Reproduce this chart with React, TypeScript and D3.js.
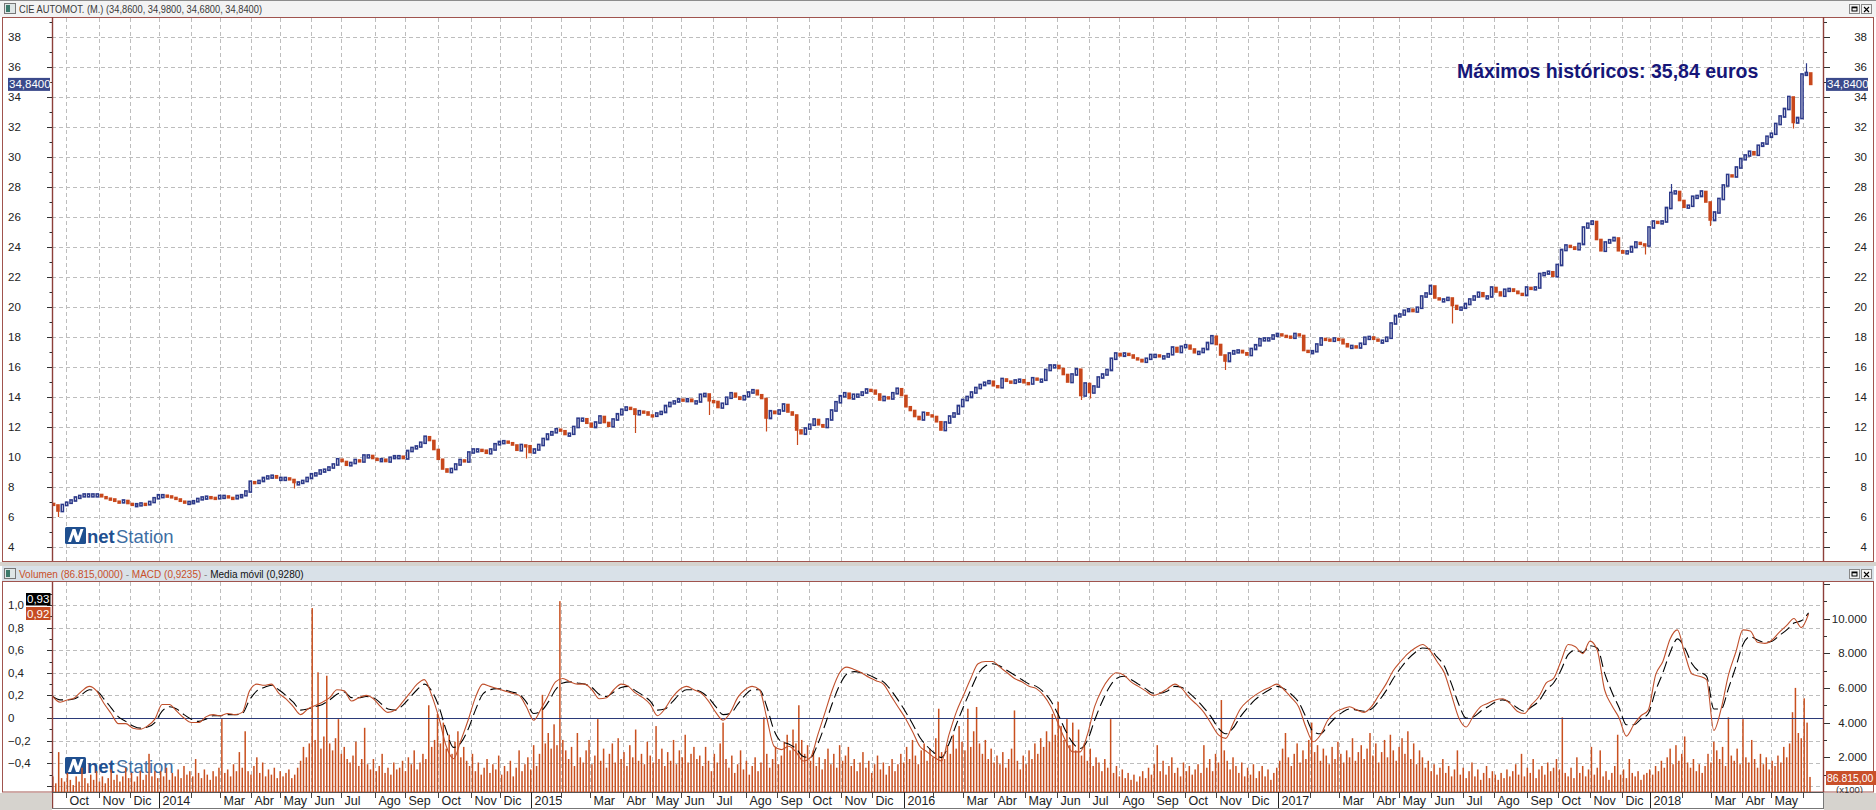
import React from 'react';
import * as d3 from 'd3';

// ---------------- DATA ----------------
// Closing price every 3 trading days (euros)
const priceClose = [
6.8,6.4,6.8,6.95,7.1,7.3,7.4,7.5,7.5,7.5,
7.5,7.35,7.25,7.2,7.05,7.0,7.1,6.9,6.85,6.85,
6.9,6.85,7.0,7.25,7.45,7.45,7.4,7.3,7.2,7.05,
7.0,7.0,7.05,7.2,7.3,7.35,7.3,7.25,7.4,7.4,
7.3,7.25,7.4,7.45,7.7,8.35,8.3,8.4,8.6,8.7,
8.75,8.6,8.6,8.6,8.5,8.3,8.3,8.4,8.6,8.85,
8.9,9.1,9.15,9.3,9.5,9.85,9.7,9.45,9.6,9.8,
9.7,10.1,10.1,9.9,9.8,9.85,9.7,9.95,10.05,10.05,
9.9,10.4,10.6,10.7,10.95,11.35,11.1,10.5,9.85,9.2,
9.0,9.2,9.5,9.8,9.7,10.3,10.5,10.5,10.45,10.25,
10.5,10.85,11.0,
11.05,10.95,10.8,10.45,10.8,10.75,10.3,10.5,10.8,11.2,
11.5,11.65,11.85,11.75,11.5,11.55,12.0,12.55,12.55,12.25,
12.0,12.3,12.7,12.3,12.05,12.5,12.85,13.15,13.3,13.2,
12.85,13.05,13.0,12.8,12.75,12.9,13.0,13.4,13.6,13.7,
13.85,13.8,13.85,13.7,13.7,14.15,14.2,13.75,13.7,13.3,
13.55,13.95,14.25,14.0,13.85,14.05,14.3,14.45,14.15,13.9,
12.6,13.05,12.9,13.1,13.5,13.0,12.8,11.8,11.55,11.9,
12.15,12.5,12.15,12.0,12.5,13.1,13.65,14.05,14.25,13.9,
14.15,14.15,14.3,14.5,14.45,14.2,13.8,14.0,13.9,14.25,
14.55,14.1,13.35,13.1,12.7,12.5,12.95,12.8,12.7,12.35,
11.8,12.3,
12.7,12.9,13.4,13.8,14.0,14.3,14.6,14.8,14.95,15.05,
14.75,14.65,15.2,15.05,14.95,15.1,15.15,14.95,14.9,15.25,
15.15,15.15,15.8,16.1,16.1,15.9,15.5,15.0,15.5,15.85,
14.1,14.9,14.3,14.7,15.3,15.5,15.8,16.55,16.9,16.75,
16.9,16.8,16.6,16.5,16.35,16.55,16.8,16.8,16.7,16.7,
16.85,17.3,17.0,17.35,17.45,17.2,16.95,17.0,17.2,17.6,
18.05,17.5,16.8,16.4,16.9,17.05,17.1,16.95,16.8,17.2,
17.45,17.85,17.9,17.9,18.1,18.2,18.1,18.05,17.95,18.2,
18.1,17.1,17.05,17.05,17.5,17.9,17.85,17.75,17.9,17.85,
17.55,17.35,17.4,17.3,17.55,17.95,18.0,17.85,17.75,17.75,
17.95,18.9,19.4,
19.5,19.75,19.85,19.7,19.95,20.7,20.9,21.4,20.6,20.5,
20.5,20.6,20.1,19.85,19.95,20.2,20.5,20.7,20.95,20.7,
20.7,21.3,21.0,20.75,21.15,21.2,21.05,20.9,20.8,21.3,
21.2,21.3,22.2,22.25,22.35,22.05,22.8,23.8,24.1,24.0,
23.85,24.2,25.3,25.55,25.7,24.5,23.75,24.3,24.45,24.6,
23.75,23.6,23.7,24.0,24.3,24.2,24.1,25.3,25.7,25.6,
25.7,26.6,27.6,27.7,27.1,26.65,26.75,27.35,27.4,27.7,
27.0,25.8,26.3,27.2,28.1,28.8,28.7,29.3,29.85,30.1,
30.35,30.15,30.75,30.9,31.35,31.55,32.2,32.7,33.2,34.0,
32.3,32.6,35.5,35.6,34.84
];
const firstOpen = 6.9;
// Notable wicks (sample index, low / high)
const priceWicks = [
  { k: 1, lo: 6.0 }, { k: 55, lo: 7.9 }, { k: 108, lo: 9.9 }, { k: 133, lo: 11.6 },
  { k: 150, lo: 12.8 }, { k: 163, lo: 11.7 }, { k: 170, lo: 10.8 }, { k: 235, lo: 13.8 },
  { k: 237, lo: 13.9 }, { k: 268, lo: 15.8 }, { k: 320, lo: 18.9 }, { k: 370, hi: 28.2 },
  { k: 379, lo: 25.4 }, { k: 364, lo: 23.5 }, { k: 398, lo: 31.9 }, { k: 401, hi: 36.25 },
];

// MACD, one value per 5 trading days
const macd = [
.19,.14,.16,.18,.24,.28,.24,.13,.04,-.05,-.05,-.09,-.1,-.07,-.01,.12,.12,.06,0,-.04,
-.04,.01,.03,.02,.04,.03,.05,.24,.30,.29,.30,.22,.17,.1,.03,.08,.11,.14,.18,.25,
.24,.15,.18,.2,.17,.1,.05,.07,
.14,.22,.3,.34,.2,0,-.25,-.36,-.2,-.02,
.18,.3,.28,.26,.24,.22,.2,.1,-.02,.08,
.2,.32,.35,.32,.3,.3,.25,.17,.18,.25,
.3,.28,.22,.18,.12,.02,.08,.18,.25,.28,
.25,.22,.15,.05,-.02,.05,.18,.25,.28,.25,
0,-.25,-.28,-.25,-.3,-.38,-.35,-.15,.05,.25,
.4,.45,.43,.4,.36,.33,.3,.2,.1,0,
-.12,-.25,-.3,-.35,-.38,-.15,.05,.2,.35,.48,
.5,.5,.45,.4,.35,.32,.28,.26,.2,.1,
-.05,-.2,-.3,-.3,-.15,.1,.25,.35,.4,.38,
.32,.28,.24,.2,.22,.26,.3,.26,.18,.12,
.05,-.05,-.15,-.18,-.05,.08,.15,.2,.24,.27,
.3,.25,.18,.1,-.08,-.21,-.15,-.02,.05,.08,
.1,.07,.05,.1,.2,.3,.42,.5,.57,.62,
.65,.6,.5,.4,.2,0,-.08,.02,.1,.13,
.16,
.17,.13,.06,.04,.12,.19,.31,.35,.5,.65,
.63,.57,.68,.6,.25,.11,0,-.16,-.06,.02,
.07,.38,.5,.7,.78,.57,.39,.37,.34,-.11,
.08,.38,.58,.78,.77,.67,.66,.69,.76,.82,
.88,.8,.92
];
// Signal ("Media móvil"), one value per 5 trading days
const signal = [
.19,.16,.16,.17,.21,.25,.24,.17,.09,.01,
-.03,-.07,-.09,-.08,-.04,.06,.10,.08,.03,-.01,
-.03,-.01,.02,.02,.03,.03,.04,.16,.24,.27,
.29,.25,.2,.14,.07,.08,.1,.12,.16,.21,
.23,.18,.18,.19,.18,.13,.08,.07,.11,.18,
.25,.3,.24,.1,-.11,-.26,-.22,-.1,.07,.21,
.25,.26,.25,.23,.21,.14,.04,.06,.14,.25,
.31,.32,.31,.3,.27,.21,.19,.23,.27,.28,
.24,.2,.15,.07,.08,.14,.21,.25,.25,.23,
.18,.1,.03,.04,.12,.2,.25,.25,.1,-.11,
-.21,-.23,-.27,-.34,-.35,-.23,-.06,.13,.29,.39,
.41,.4,.38,.35,.32,.25,.16,.06,-.05,-.17,
-.25,-.31,-.35,-.23,-.06,.1,.25,.39,.46,.48,
.46,.42,.38,.34,.3,.28,.23,.15,.03,-.11,
-.22,-.27,-.2,-.02,.14,.27,.35,.37,.34,.3,
.26,.22,.22,.24,.28,.27,.22,.16,.09,.01,
-.09,-.14,-.09,.01,.09,.16,.21,.25,.28,.26,
.21,.14,.01,-.12,-.14,-.07,0,.05,.08,.07,
.06,.08,.15,.24,.35,.44,.52,.58,.62,.61,
.54,.46,.3,.12,0,.01,.06,.1,.14,.16,
.14,.09,.06,.1,.15,.25,.31,.42,.56,.6,
.58,.64,.62,.4,.23,.09,-.06,-.06,-.01,.04,
.24,.4,.58,.7,.62,.48,.41,.37,.08,.08,
.26,.45,.65,.72,.69,.67,.68,.73,.78,.84,
.86,.93
];

// Volume, one bar per 2 trading days, in hundreds of (x100) units
const volumeHundreds = [
9,5,23,8,6,11,7,4,9,6,14,8,5,10,7,12,6,9,5,8,13,7,10,6,9,14,8,11,6,9,12,7,10,22,9,12,
8,12,9,14,7,11,9,13,8,15,10,12,9,19,11,8,13,10,7,12,9,14,42,11,13,9,16,12,23,14,35,12,10,15,20,11,17,9,13,10,14,8,12,9,11,13,8,10,14,
18,26,20,28,106,30,69,25,32,67,28,24,31,42,22,26,19,
17,21,29,15,19,37,16,13,19,12,15,22,11,14,10,17,13,
14,18,12,20,16,24,13,17,22,19,50,26,30,45,28,40,25,33,22,29,35,20,26,18,
15,22,12,17,10,14,19,11,16,13,21,10,15,12,18,9,14,24,12,16,20,13,27,15,
22,56,28,34,25,39,27,110,30,24,
19,26,15,34,20,17,24,30,16,21,42,18,25,14,22,28,17,31,19,23,15,27,20,36,18,22,16,29,21,17,38,19,25,15,23,18,30,16,24,20,33,17,22,26,19,
21,15,26,18,12,22,17,28,40,19,14,21,11,16,24,13,18,10,15,20,12,17,43,22,14,19,26,16,21,29,33,24,36,28,
50,30,22,27,18,24,15,20,13,19,25,16,22,14,27,18,21,26,15,19,12,17,23,14,18,11,16,21,13,17,10,15,19,12,16,
22,17,26,19,30,21,16,24,28,18,25,20,31,48,23,19,27,22,33,25,38,29,24,48,26,35,49,28,22,30,19,25,17,21,
16,23,14,19,25,47,18,13,21,16,24,19,28,22,31,26,35,29,45,33,52,38,30,42,27,40,24,36,21,28,18,25,15,20,
17,12,19,14,42,11,15,9,13,8,11,7,10,6,9,12,8,14,10,16,27,12,18,10,15,20,11,14,9,17,12,15,10,13,
16,11,27,14,19,12,22,17,53,24,18,13,20,15,11,17,9,14,10,16,8,12,15,9,13,7,11,14,
18,25,34,20,15,22,28,17,24,19,30,40,23,27,18,25,21,16,26,19,29,22,17,24,20,31,18,23,27,19,25,34,21,28,17,23,30,20,33,24,18,
26,31,22,35,19,28,16,24,20,14,18,12,16,10,14,19,11,15,9,13,24,10,14,8,12,17,9,13,7,11,15,8,12,10,
7,11,8,13,9,12,16,10,22,9,14,11,19,8,13,15,10,17,12,14,19,13,43,11,9,14,8,20,11,15,9,13,26,10,
14,24,9,12,7,11,15,33,10,13,8,19,11,9,12,7,10,
11,13,10,15,12,18,14,20,25,16,27,18,22,32,17,14,19,12,16,11,15,
22,17,29,24,19,26,15,43,21,18,25,16,42,20,17,30,19,14,22,16,20,13,18,15,21,17,26,
20,28,46,60,34,31,54,40,8.68
];

const priceTicks = d3.range(4, 39, 2);
const macdTicks = [-0.4, -0.2, 0, 0.2, 0.4, 0.6, 0.8, 1.0];
const macdGrid = [-0.6, -0.4, -0.2, 0.2, 0.4, 0.6, 0.8, 1.0];
const volTicks = [2000, 4000, 6000, 8000, 10000];
const monthNames = ['Ene', 'Feb', 'Mar', 'Abr', 'May', 'Jun', 'Jul', 'Ago', 'Sep', 'Oct', 'Nov', 'Dic'];
const HOLIDAYS = [
  '2013-12-25', '2013-12-26', '2014-01-01', '2014-04-18', '2014-04-21', '2014-05-01', '2014-12-25', '2014-12-26',
  '2015-01-01', '2015-04-03', '2015-04-06', '2015-05-01', '2015-12-25', '2016-01-01', '2016-03-25', '2016-03-28',
  '2016-12-26', '2017-04-14', '2017-04-17', '2017-05-01', '2017-12-25', '2017-12-26', '2018-01-01', '2018-03-30',
  '2018-04-02', '2018-05-01',
];
const titleText = 'CIE AUTOMOT. (M.) (34,8600, 34,9800, 34,6800, 34,8400)';
const noteText = 'Máximos históricos: 35,84 euros';
const lastPrice = 34.84;

// ---------------- LAYOUT ----------------
const W = 1876, H = 810;
const PL = 52, PR = 1823;
const MAIN_T = 17, MAIN_B = 561;
const LOW_T = 582, LOW_B = 792;
const X0 = 51.4, DAY_W = 1.457;
const FONT = '"Liberation Sans", Arial, sans-serif';
const UP = '#2c3989', DOWN = '#c8481c', VOLC = '#c9501f', BORDER = '#a0544e', GRID = '#bdbdbd';

function buildDays(): Date[] {
  const hol = new Set(HOLIDAYS);
  const fmt = d3.timeFormat('%Y-%m-%d');
  const out: Date[] = [];
  const d = new Date(2013, 8, 17);
  const end = new Date(2018, 5, 11);
  while (d <= end) {
    const wd = d.getDay();
    if (wd !== 0 && wd !== 6 && !hol.has(fmt(d))) out.push(new Date(d));
    d.setDate(d.getDate() + 1);
  }
  return out;
}

function Logo({ x, y }: { x: number; y: number }) {
  return (
    <g>
      <rect x={x} y={y} width={21} height={17} rx={1.5} fill="#1f4f8f" />
      <path d={`M${x + 3},${y + 15} L${x + 7.5},${y + 2} L${x + 10.5},${y + 2} L${x + 13},${y + 9.5} L${x + 15.5},${y + 2} L${x + 18.5},${y + 2} L${x + 14},${y + 15} L${x + 11},${y + 15} L${x + 8.5},${y + 7.5} L${x + 6},${y + 15} Z`} fill="#fff" />
      <text x={x + 22} y={y + 16} fontSize={18.5} fontWeight="bold" fill="#1f4f8f" fontFamily={FONT}>net</text>
      <text x={x + 51} y={y + 16} fontSize={18.5} fill="#3d6ea3" fontFamily={FONT}>Station</text>
    </g>
  );
}

function WinButtons({ y }: { y: number }) {
  return (
    <g>
      <rect x={1849.5} y={y + 0.5} width={10} height={9} fill="#f4f4f4" stroke="#888" />
      <rect x={1852} y={y + 3} width={5} height={4} fill="none" stroke="#000" strokeWidth={1} />
      <rect x={1852} y={y + 3} width={5} height={1.3} fill="#000" />
      <rect x={1861.5} y={y + 0.5} width={10} height={9} fill="#f4f4f4" stroke="#888" />
      <path d={`M1864,${y + 3} L1869,${y + 8} M1869,${y + 3} L1864,${y + 8}`} stroke="#000" strokeWidth={1.1} />
    </g>
  );
}

export default function App() {
  const days = React.useMemo(buildDays, []);
  const N = days.length;
  const x = d3.scaleLinear().domain([0, N]).range([X0, X0 + N * DAY_W]);
  const yP = d3.scaleLinear().domain([4, 38]).range([547, 37]);
  const yM = d3.scaleLinear().domain([0, 1]).range([718, 605]);
  const yV = d3.scaleLinear().domain([0, 10000]).range([LOW_B, 618.5]);

  const months: { i: number; d: Date }[] = [];
  for (let i = 1; i < N; i++) if (days[i].getMonth() !== days[i - 1].getMonth()) months.push({ i, d: days[i] });
  const monthX = months.map(m => Math.round(x(m.i)) + 0.5);

  const macdLine = d3.line<number>().x((_, j) => x(5 * j + 1)).y(v => yM(v)).curve(d3.curveMonotoneX);

  const minorP = d3.range(4, 40, 1);
  const minorM = d3.range(-6, 12, 1).map(v => v / 10);
  const minorV = d3.range(1000, 12001, 1000);

  return (
    <div style={{ position: 'absolute', left: 0, top: 0 }}>
      <svg width={W} height={H} viewBox={`0 0 ${W} ${H}`} style={{ display: 'block', fontFamily: FONT }}>
        <defs>
          <clipPath id="clipMain"><rect x={PL} y={MAIN_T} width={PR - PL} height={MAIN_B - MAIN_T} /></clipPath>
          <clipPath id="clipLow"><rect x={PL} y={LOW_T} width={PR - PL} height={LOW_B - LOW_T} /></clipPath>
        </defs>
        <rect width={W} height={H} fill="#ffffff" />
        {/* top title bar */}
        <rect x={0} y={0} width={W} height={17} fill="#f3f3f3" />
        <line x1={0} x2={W} y1={0.5} y2={0.5} stroke="#8c8c8c" />
        <rect x={4.5} y={3.5} width={11} height={10} fill="#dfe6e6" stroke="#777" />
        <rect x={6} y={5} width={4} height={7} fill="#3c7a6c" />
        <text x={19} y={12.5} fontSize={10.5} fill="#3a3a3a" textLength={243} lengthAdjust="spacingAndGlyphs">{titleText}</text>
        <WinButtons y={4} />

        {/* main panel frame */}
        <rect x={2.5} y={MAIN_T + 0.5} width={1871} height={MAIN_B - MAIN_T} fill="#fff" stroke={BORDER} />

        {/* main grid */}
        <g stroke={GRID} strokeDasharray="4 3" strokeWidth={1}>
          {priceTicks.map(p => <line key={'hg' + p} x1={PL} x2={PR} y1={Math.round(yP(p)) + 0.5} y2={Math.round(yP(p)) + 0.5} />)}
          {monthX.map((mx, i) => <line key={'vg' + i} x1={mx} x2={mx} y1={MAIN_T + 1} y2={MAIN_B} />)}
        </g>

        {/* watermark */}
        <Logo x={65} y={527} />

        {/* candles */}
        <g clipPath="url(#clipMain)">
          {priceWicks.map((w, i) => {
            const c = priceClose[w.k];
            const o = w.k === 0 ? firstOpen : priceClose[w.k - 1];
            const cx = Math.round(x(3 * w.k + 1.5)) + 0.5;
            const top = w.hi !== undefined ? w.hi : Math.max(o, c);
            const bot = w.lo !== undefined ? w.lo : Math.min(o, c);
            return <line key={'w' + i} x1={cx} x2={cx} y1={yP(top)} y2={yP(bot)} stroke={c >= o ? UP : DOWN} strokeWidth={1.2} />;
          })}
          {priceClose.map((c, k) => {
            const o = k === 0 ? firstOpen : priceClose[k - 1];
            const cx = x(3 * k + 1.5);
            const y1 = yP(Math.max(o, c));
            const y2 = yP(Math.min(o, c));
            const h = Math.max(1.8, y2 - y1);
            if (c >= o) {
              return <rect key={'c' + k} x={cx - 1.1} y={y1 - 0.6} width={2.2} height={h + 1.2} fill="#fff" stroke={UP} strokeWidth={1.5} />;
            }
            return <rect key={'c' + k} x={cx - 1.8} y={y1 - 0.8} width={3.6} height={h + 1.6} fill={DOWN} />;
          })}
        </g>

        {/* main axes */}
        <line x1={PL + 0.5} x2={PL + 0.5} y1={MAIN_T} y2={MAIN_B} stroke="#8d3f3a" strokeWidth={1.4} />
        <line x1={PR + 0.5} x2={PR + 0.5} y1={MAIN_T} y2={MAIN_B} stroke="#8d3f3a" strokeWidth={1.4} />
        {minorP.map(p => {
          const yy = Math.round(yP(p)) + 0.5;
          if (yy < MAIN_T + 2 || yy > MAIN_B - 1) return null;
          const major = p % 2 === 0;
          return (
            <g key={'pt' + p} stroke="#333">
              <line x1={major ? PL - 5 : PL - 2.5} x2={PL} y1={yy} y2={yy} />
              <line x1={PR + 1} x2={major ? PR + 7 : PR + 4} y1={yy} y2={yy} />
            </g>
          );
        })}
        {priceTicks.map(p => (
          <g key={'pl' + p} fontSize={11.5} fill="#222">
            <text x={8} y={yP(p) + 4}>{p}</text>
            <text x={1867} y={yP(p) + 4} textAnchor="end">{p}</text>
          </g>
        ))}
        {/* last price boxes */}
        <rect x={8} y={yP(lastPrice) - 6.5} width={42} height={13} fill="#3b4a8b" />
        <text x={9} y={yP(lastPrice) + 4} fontSize={11.5} fill="#fff">34,8400</text>
        <rect x={1826} y={yP(lastPrice) - 6.5} width={42} height={13} fill="#3b4a8b" />
        <text x={1827} y={yP(lastPrice) + 4} fontSize={11.5} fill="#fff">34,8400</text>

        {/* note */}
        <text x={1457} y={78} fontSize={19.5} fontWeight="bold" fill="#161678">{noteText}</text>

        {/* gap between panels */}
        <rect x={0} y={MAIN_B + 1} width={W} height={4} fill="#d6d3ce" />
        {/* lower title bar */}
        <rect x={2} y={566} width={1872} height={15} fill="#d9e1e8" />
        <rect x={4.5} y={568.5} width={11} height={10} fill="#dfe6e6" stroke="#777" />
        <rect x={6} y={570} width={4} height={7} fill="#3c7a6c" />
        <text x={19} y={577.5} fontSize={10} fill="#c8502a">
          <tspan>Volumen (86.815,0000)</tspan>
          <tspan fill="#888"> - </tspan>
          <tspan>MACD (0,9235)</tspan>
          <tspan fill="#888"> - </tspan>
          <tspan fill="#111">Media móvil (0,9280)</tspan>
        </text>
        <WinButtons y={569} />

        {/* lower panel frame */}
        <rect x={2.5} y={LOW_T - 0.5} width={1871} height={LOW_B - LOW_T + 0.5} fill="#fff" stroke={BORDER} />

        {/* lower grid */}
        <g stroke={GRID} strokeDasharray="4 3" strokeWidth={1}>
          {macdGrid.map(v => <line key={'lm' + v} x1={PL} x2={PR} y1={Math.round(yM(v)) + 0.5} y2={Math.round(yM(v)) + 0.5} />)}
          {monthX.map((mx, i) => <line key={'lv' + i} x1={mx} x2={mx} y1={LOW_T} y2={LOW_B} />)}
        </g>

        <Logo x={65} y={757} />

        <g clipPath="url(#clipLow)">
          {volumeHundreds.map((v, m) => {
            const val = v * 100;
            const cx = x(2 * m + 1);
            return <rect key={'v' + m} x={cx - 0.75} y={yV(val)} width={1.5} height={LOW_B - yV(val)} fill={VOLC} />;
          })}
          <line x1={PL} x2={PR} y1={718.5} y2={718.5} stroke="#2b3a78" strokeWidth={1} />
          <path d={macdLine(signal) || ''} fill="none" stroke="#000" strokeWidth={1.1} strokeDasharray="11 5" />
          <path d={macdLine(macd) || ''} fill="none" stroke="#c0502c" strokeWidth={1.1} />
        </g>

        {/* lower axes */}
        <line x1={PL + 0.5} x2={PL + 0.5} y1={LOW_T} y2={808} stroke="#8d3f3a" strokeWidth={1.4} />
        <line x1={PR + 0.5} x2={PR + 0.5} y1={LOW_T} y2={LOW_B} stroke="#8d3f3a" strokeWidth={1.4} />
        {minorM.map(v => {
          const yy = Math.round(yM(v)) + 0.5;
          if (yy < LOW_T + 1 || yy > LOW_B - 1) return null;
          const major = Math.round(v * 10) % 2 === 0;
          return <line key={'mt' + v} x1={major ? PL - 5 : PL - 2.5} x2={PL} y1={yy} y2={yy} stroke="#333" />;
        })}
        {minorV.map(v => {
          const yy = Math.round(yV(v)) + 0.5;
          if (yy < LOW_T + 1) return null;
          const major = v % 2000 === 0;
          return <line key={'vt' + v} x1={PR + 1} x2={major ? PR + 7 : PR + 4} y1={yy} y2={yy} stroke="#333" />;
        })}
        {macdTicks.map(v => (
          <text key={'ml' + v} x={8} y={yM(v) + 4} fontSize={11.5} fill="#222">{v === 0 ? '0' : d3.format('.1f')(v).replace('.', ',')}</text>
        ))}
        {volTicks.map(v => (
          <text key={'vl' + v} x={1867} y={yV(v) + 4} fontSize={11.5} fill="#222" textAnchor="end">{d3.format(',')(v).replace(',', '.')}</text>
        ))}
        <rect x={26} y={593} width={24.5} height={12.5} fill="#000" />
        <text x={27} y={603} fontSize={11.5} fill="#fff">0,93</text>
        <rect x={26} y={607} width={24.5} height={13} fill="#c64c22" />
        <text x={27} y={617.5} fontSize={11.5} fill="#fff">0,92</text>
        <text x={1836} y={793} fontSize={9.5} fill="#333">(x100)</text>
        <rect x={1826} y={771} width={50} height={14} fill="#c9502a" />
        <text x={1827} y={782} fontSize={10.4} fill="#fff">86.815,00</text>

        {/* x axis strip */}
        <rect x={0} y={LOW_B + 1} width={PL} height={H - LOW_B} fill="#d6d3ce" />
        <rect x={PR + 1} y={LOW_B + 1} width={W - PR} height={H - LOW_B} fill="#d6d3ce" />
        <line x1={PL} x2={PR + 1} y1={LOW_B + 0.5} y2={LOW_B + 0.5} stroke="#555" />
        <line x1={PL} x2={PR + 1} y1={808.5} y2={808.5} stroke="#777" />
        <line x1={PR + 0.5} x2={PR + 0.5} y1={LOW_B} y2={809} stroke="#777" />
        {months.map((m, i) => {
          const mx = monthX[i];
          const isYear = m.d.getMonth() === 0;
          const label = isYear ? String(m.d.getFullYear()) : monthNames[m.d.getMonth()];
          const showLabel = m.d.getMonth() !== 1 && mx + 20 < PR;
          return (
            <g key={'xl' + i}>
              <line x1={mx} x2={mx} y1={LOW_B} y2={isYear ? 808 : 798} stroke={isYear ? '#222' : '#444'} />
              {showLabel && <text x={mx + 3} y={805} fontSize={12.5} fill="#222">{label}</text>}
            </g>
          );
        })}
      </svg>
    </div>
  );
}
